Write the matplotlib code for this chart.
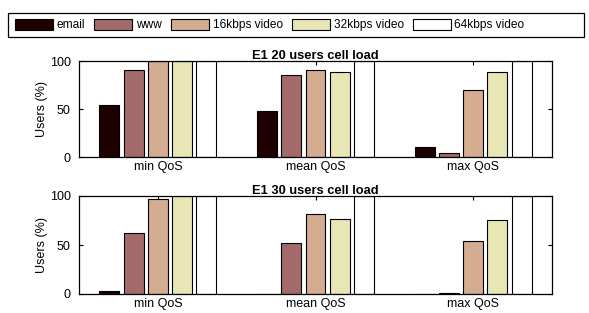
import numpy as np
import matplotlib
matplotlib.use("Agg")
import matplotlib.pyplot as plt
from matplotlib.patches import Rectangle

plt.rcParams['font.family'] = ['Liberation Sans', 'DejaVu Sans']
plt.rcParams['font.size'] = 9

# data
groups = ['min QoS', 'mean QoS', 'max QoS']
services = ['email', 'www', '16kbps video', '32kbps video', '64kbps video']
colors = ['#1e0000', '#a26a6a', '#d3ac91', '#e8e6b4', '#ffffff']

load20 = [[54, 48, 10.5],    # email
          [91, 85, 4],       # www
          [100, 91, 70],     # 16kbps
          [100, 89, 88.5],   # 32kbps
          [100, 100, 100]]   # 64kbps
load30 = [[3.5, 0.5, 0.3],
          [62, 52, 0.7],
          [97, 82, 54.5],
          [100, 76.5, 76],
          [100, 100, 100]]

titles = ['E1 20 users cell load', 'E1 30 users cell load']

fig = plt.figure(figsize=(5.89, 3.13), dpi=100)
ax1 = fig.add_axes([79/589, 1-157/313, 473/589, 96/313])
ax2 = fig.add_axes([79/589, 1-294/313, 473/589, 98/313])

x = np.arange(1, len(groups)+1)
slot = 0.769 / len(services)
width = slot * 0.82

for ax, data, title in zip([ax1, ax2], [load20, load30], titles):
    for i, (name, vals) in enumerate(zip(services, data)):
        off = (i - 2) * slot
        ax.bar(x + off, vals, width, color=colors[i], edgecolor='black',
               linewidth=0.8, label=name, zorder=2)
    ax.set_xlim(0.5, 3.5)
    ax.set_ylim(0, 100)
    ax.set_yticks([0, 50, 100])
    ax.set_xticks(x)
    ax.set_xticklabels(groups)
    ax.set_ylabel('Users (%)', labelpad=1)
    ax.set_title(title, fontweight='bold', fontsize=9.3, pad=1.5)
    ax.tick_params(direction='in', top=True, right=True, length=3, width=0.8)
    ax.tick_params(axis='y', pad=6)
    ax.tick_params(axis='x', pad=3)
    for s in ax.spines.values():
        s.set_linewidth(0.9)
        s.set_zorder(3)

# legend box is wider than its entries, as in the original
fig.patches.append(Rectangle((8/589, 1-37/313), 576/589, 24/313, transform=fig.transFigure,
                             facecolor='white', edgecolor='black', linewidth=0.9))
handles, labels = ax1.get_legend_handles_labels()
leg = fig.legend(handles, labels, loc='center left', ncol=5, fontsize=8.6,
                 bbox_to_anchor=(15/589, 1-25/313), frameon=False,
                 handlelength=3.2, handleheight=1.1, handletextpad=0.3,
                 columnspacing=0.75, borderpad=0, borderaxespad=0)

fig.savefig('out.png', dpi=100)
